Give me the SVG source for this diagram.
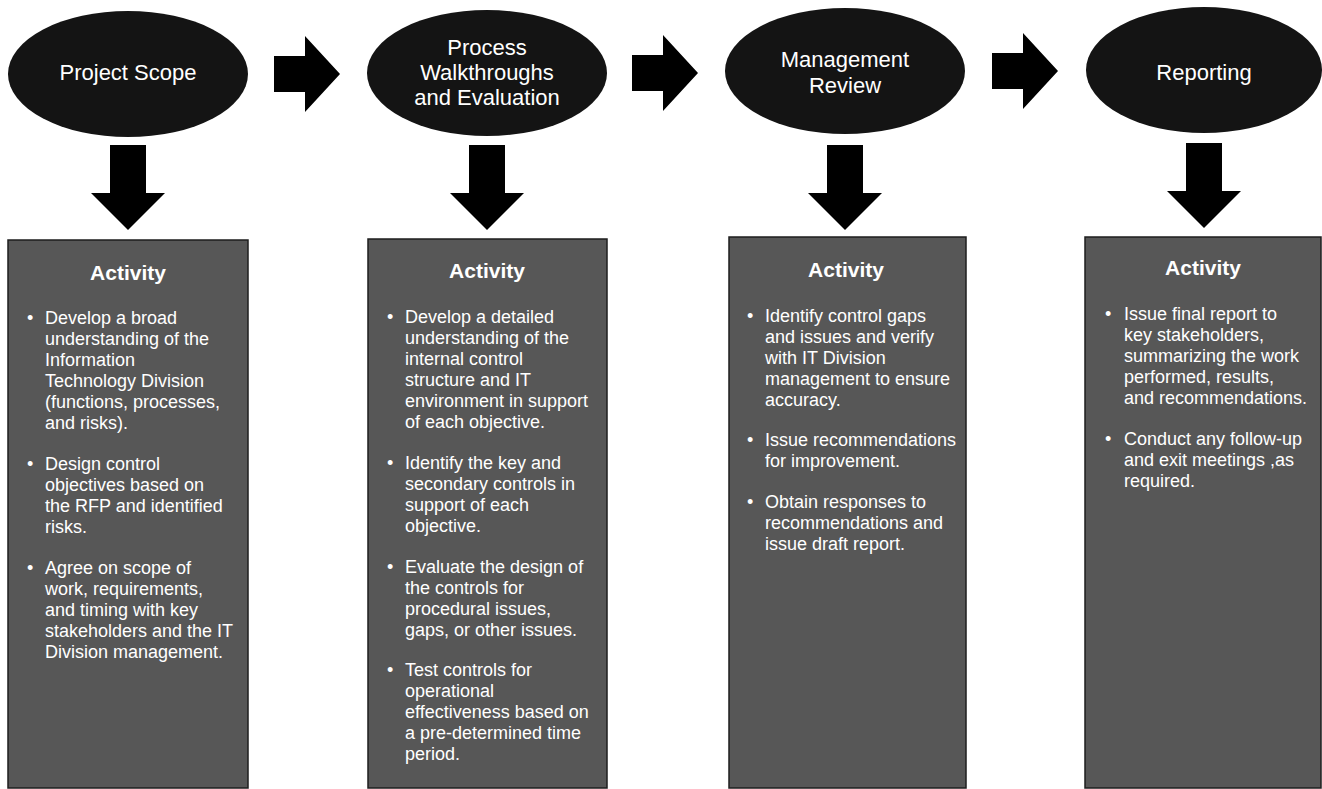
<svg xmlns="http://www.w3.org/2000/svg" width="1322" height="789" viewBox="0 0 1322 789">
<style>
.oval{fill:#141414;}
.box{fill:#575757;stroke:#1e1e1e;stroke-width:1.5;}
.arrow{fill:#000;}
.otxt{font-family:"Liberation Sans",Arial,sans-serif;font-size:22px;fill:#fff;text-anchor:middle;}
.head{font-family:"Liberation Sans",Arial,sans-serif;font-size:21px;font-weight:bold;fill:#fff;text-anchor:middle;}
.body{font-family:"Liberation Sans",Arial,sans-serif;font-size:18px;fill:#fff;}
.bul{font-family:"Liberation Sans",Arial,sans-serif;font-size:18px;fill:#fff;}
</style>
<defs>
<path id="down" d="M-18,-85 H18 V-37 H37 L0,0 L-37,-37 H-18 Z"/>
<path id="right" d="M-66,-18 H-35 V-38 L0,0 L-35,38 V18 H-66 Z"/>
</defs>
<rect width="1322" height="789" fill="#fff"/>

<g id="connectors">
<use href="#right" class="arrow" x="340" y="74"/>
<use href="#right" class="arrow" x="698" y="73"/>
<use href="#right" class="arrow" x="1058" y="71"/>
<use href="#down" class="arrow" x="128" y="230"/>
<use href="#down" class="arrow" x="487" y="230"/>
<use href="#down" class="arrow" x="845" y="230"/>
<use href="#down" class="arrow" x="1204" y="228"/>
</g>

<g id="node-project-scope">
<ellipse class="oval" cx="128" cy="74" rx="120" ry="63"/>
<text class="otxt" x="128" y="80">Project Scope</text>
</g>
<g id="node-process-walkthroughs">
<ellipse class="oval" cx="487" cy="73" rx="120" ry="63"/>
<text class="otxt" x="487" y="55">Process</text>
<text class="otxt" x="487" y="80">Walkthroughs</text>
<text class="otxt" x="487" y="105">and Evaluation</text>
</g>
<g id="node-management-review">
<ellipse class="oval" cx="845" cy="71" rx="120" ry="63"/>
<text class="otxt" x="845" y="67">Management</text>
<text class="otxt" x="845" y="93">Review</text>
</g>
<g id="node-reporting">
<ellipse class="oval" cx="1204" cy="70" rx="118" ry="63"/>
<text class="otxt" x="1204" y="80">Reporting</text>
</g>

<g id="box-project-scope">
<rect class="box" x="8" y="240" width="240" height="548"/>
<text class="head" x="128" y="280">Activity</text>
<text class="bul" x="27" y="324">•</text>
<text class="body" x="45" y="324">Develop a broad</text>
<text class="body" x="45" y="345">understanding of the</text>
<text class="body" x="45" y="366">Information</text>
<text class="body" x="45" y="387">Technology Division</text>
<text class="body" x="45" y="408">(functions, processes,</text>
<text class="body" x="45" y="429">and risks).</text>
<text class="bul" x="27" y="470">•</text>
<text class="body" x="45" y="470">Design control</text>
<text class="body" x="45" y="491">objectives based on</text>
<text class="body" x="45" y="512">the RFP and identified</text>
<text class="body" x="45" y="533">risks.</text>
<text class="bul" x="27" y="574">•</text>
<text class="body" x="45" y="574">Agree on scope of</text>
<text class="body" x="45" y="595">work, requirements,</text>
<text class="body" x="45" y="616">and timing with key</text>
<text class="body" x="45" y="637">stakeholders and the IT</text>
<text class="body" x="45" y="658">Division management.</text>
</g>

<g id="box-process-walkthroughs">
<rect class="box" x="368" y="239" width="239" height="549"/>
<text class="head" x="487" y="278">Activity</text>
<text class="bul" x="387" y="323">•</text>
<text class="body" x="405" y="323">Develop a detailed</text>
<text class="body" x="405" y="344">understanding of the</text>
<text class="body" x="405" y="365">internal control</text>
<text class="body" x="405" y="386">structure and IT</text>
<text class="body" x="405" y="407">environment in support</text>
<text class="body" x="405" y="428">of each objective.</text>
<text class="bul" x="387" y="469">•</text>
<text class="body" x="405" y="469">Identify the key and</text>
<text class="body" x="405" y="490">secondary controls in</text>
<text class="body" x="405" y="511">support of each</text>
<text class="body" x="405" y="532">objective.</text>
<text class="bul" x="387" y="573">•</text>
<text class="body" x="405" y="573">Evaluate the design of</text>
<text class="body" x="405" y="594">the controls for</text>
<text class="body" x="405" y="615">procedural issues,</text>
<text class="body" x="405" y="636">gaps, or other issues.</text>
<text class="bul" x="387" y="676">•</text>
<text class="body" x="405" y="676">Test controls for</text>
<text class="body" x="405" y="697">operational</text>
<text class="body" x="405" y="718">effectiveness based on</text>
<text class="body" x="405" y="739">a pre-determined time</text>
<text class="body" x="405" y="760">period.</text>
</g>

<g id="box-management-review">
<rect class="box" x="729" y="237" width="237" height="551"/>
<text class="head" x="846" y="277">Activity</text>
<text class="bul" x="747" y="322">•</text>
<text class="body" x="765" y="322">Identify control gaps</text>
<text class="body" x="765" y="343">and issues and verify</text>
<text class="body" x="765" y="364">with IT Division</text>
<text class="body" x="765" y="385">management to ensure</text>
<text class="body" x="765" y="406">accuracy.</text>
<text class="bul" x="747" y="446">•</text>
<text class="body" x="765" y="446">Issue recommendations</text>
<text class="body" x="765" y="467">for improvement.</text>
<text class="bul" x="747" y="508">•</text>
<text class="body" x="765" y="508">Obtain responses to</text>
<text class="body" x="765" y="529">recommendations and</text>
<text class="body" x="765" y="550">issue draft report.</text>
</g>

<g id="box-reporting">
<rect class="box" x="1085" y="237" width="236" height="551"/>
<text class="head" x="1203" y="275">Activity</text>
<text class="bul" x="1105" y="320">•</text>
<text class="body" x="1124" y="320">Issue final report to</text>
<text class="body" x="1124" y="341">key stakeholders,</text>
<text class="body" x="1124" y="362">summarizing the work</text>
<text class="body" x="1124" y="383">performed, results,</text>
<text class="body" x="1124" y="404">and recommendations.</text>
<text class="bul" x="1105" y="445">•</text>
<text class="body" x="1124" y="445">Conduct any follow-up</text>
<text class="body" x="1124" y="466">and exit meetings ,as</text>
<text class="body" x="1124" y="487">required.</text>
</g>
</svg>
